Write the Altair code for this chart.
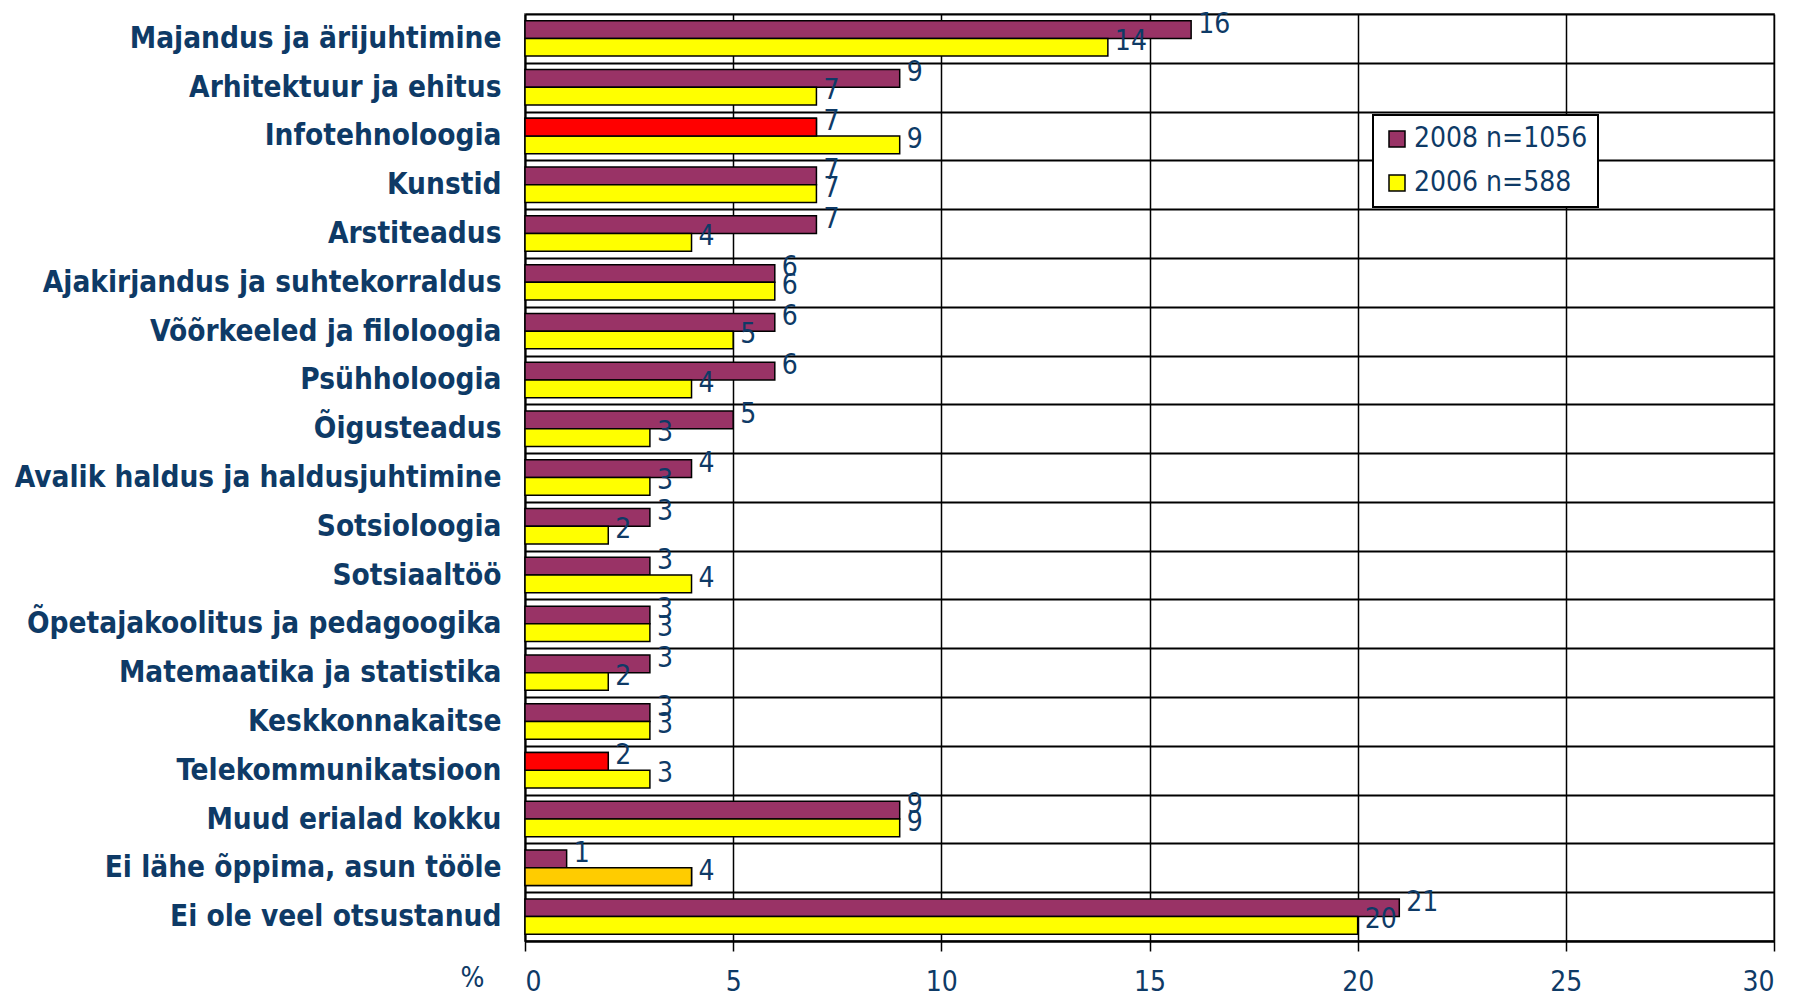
import altair as alt
import pandas as pd

categories = [
    "Majandus ja ärijuhtimine",
    "Arhitektuur ja ehitus",
    "Infotehnoloogia",
    "Kunstid",
    "Arstiteadus",
    "Ajakirjandus ja suhtekorraldus",
    "Võõrkeeled ja filoloogia",
    "Psühholoogia",
    "Õigusteadus",
    "Avalik haldus ja haldusjuhtimine",
    "Sotsioloogia",
    "Sotsiaaltöö",
    "Õpetajakoolitus ja pedagoogika",
    "Matemaatika ja statistika",
    "Keskkonnakaitse",
    "Telekommunikatsioon",
    "Muud erialad kokku ",
    "Ei lähe õppima, asun tööle",
    "Ei ole veel otsustanud",
]
values_2008 = [16, 9, 7, 7, 7, 6, 6, 6, 5, 4, 3, 3, 3, 3, 3, 2, 9, 1, 21]
values_2006 = [14, 7, 9, 7, 4, 6, 5, 4, 3, 3, 2, 4, 3, 2, 3, 3, 9, 4, 20]
series_names = ["2008 n=1056", "2006 n=588"]
series_colors = ["#993366", "#FFFF00"]
highlight_2008 = {"Infotehnoloogia": "#FF0000", "Telekommunikatsioon": "#FF0000"}
highlight_2006 = {"Ei lähe õppima, asun tööle": "#FFCC00"}
x_ticks = [0, 5, 10, 15, 20, 25, 30]

NAVY = "#0E3A66"
FONT = "DejaVu Sans Condensed, DejaVu Sans"

rows = []
for i, c in enumerate(categories):
    rows.append(dict(cat=c, series=series_names[0], value=values_2008[i],
                     override=highlight_2008.get(c, "")))
    rows.append(dict(cat=c, series=series_names[1], value=values_2006[i],
                     override=highlight_2006.get(c, "")))
df = pd.DataFrame(rows)

y_enc = alt.Y(
    "cat:N", sort=categories,
    scale=alt.Scale(paddingInner=0, paddingOuter=0),
    axis=alt.Axis(title=None, labelFont=FONT, labelFontSize=29.5, labelFontWeight="bold",
                  labelColor=NAVY, labelPadding=24, ticks=False, grid=True,
                  gridColor="#000000", gridWidth=2, tickBand="extent",
                  domainColor="#000000", domainWidth=2, labelLimit=700),
)
yoff_enc = alt.YOffset("series:N", sort=series_names,
                       scale=alt.Scale(paddingInner=0, paddingOuter=0.377))
x_enc = alt.X(
    "value:Q", scale=alt.Scale(domain=[0, 30], nice=False),
    axis=alt.Axis(values=x_ticks, title="%", grid=True, gridColor="#000000", gridWidth=1.5,
                  tickColor="#000000", tickSize=10, tickWidth=1.5,
                  labelFont=FONT, labelFontSize=28, labelColor=NAVY, labelPadding=17,
                  domainColor="#000000", domainWidth=2,
                  titleFont=FONT, titleFontSize=28, titleFontWeight="normal",
                  titleColor=NAVY, titleX=-53, titleY=45, titleAlign="center",
                  titleBaseline="alphabetic"),
)

base = alt.Chart(df)

bars = base.mark_bar(stroke="#000000", strokeWidth=1.5).encode(
    x=x_enc, y=y_enc, yOffset=yoff_enc,
    color=alt.Color(
        "series:N",
        scale=alt.Scale(domain=series_names, range=series_colors),
        legend=alt.Legend(
            orient="none", legendX=848, legendY=101, title=None,
            fillColor="white", strokeColor="#000000", padding=10,
            symbolType="square", symbolSize=256, symbolStrokeColor="#000000",
            symbolStrokeWidth=1.5, symbolOpacity=1,
            labelFont=FONT, labelFontSize=28, labelColor=NAVY, labelLimit=400,
            rowPadding=16, labelOffset=3,
        ),
    ),
)

over = base.transform_filter("datum.override != ''").mark_bar(
    stroke="#000000", strokeWidth=1.5
).encode(
    x="value:Q", y=alt.Y("cat:N", sort=categories), yOffset=alt.YOffset("series:N", sort=series_names),
    fill=alt.Fill("override:N", scale=None),
)

labels = base.mark_text(align="left", baseline="middle", dx=7, dy=-5, font=FONT,
                        fontSize=28, color=NAVY).encode(
    x="value:Q", y=alt.Y("cat:N", sort=categories),
    yOffset=alt.YOffset("series:N", sort=series_names),
    text=alt.Text("value:Q"),
)

chart = alt.layer(bars, over, labels).properties(
    width=1249, height=927,
    autosize=alt.AutoSizeParams(type="none"),
    padding={"left": 517, "top": 6, "right": 10, "bottom": 60},
    background="white",
).configure_view(stroke="#888888", strokeWidth=2).configure_legend(strokeWidth=2)

chart.save("out.html", embed_options={"renderer": "svg", "actions": False})
